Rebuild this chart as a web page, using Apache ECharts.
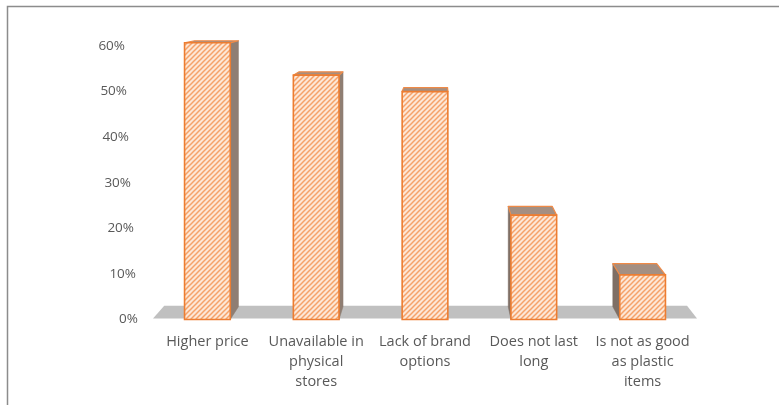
<!DOCTYPE html>
<html>
<head>
<meta charset="utf-8">
<script src="https://cdn.jsdelivr.net/npm/echarts@6/dist/echarts.min.js"></script>
<style>
  html, body { margin: 0; padding: 0; background: #ffffff; }
  #chart { width: 779px; height: 405px; }
</style>
</head>
<body>
<div id="chart"></div>
<script>
// Reasons given for not buying the alternative products (share of respondents)
const categories = [
  'Higher price',
  'Unavailable in\nphysical\nstores',
  'Lack of brand\noptions',
  'Does not last\nlong',
  'Is not as good\nas plastic\nitems'
];
const shares = [0.607, 0.536, 0.50, 0.229, 0.098];
const yTicks = [0, 0.1, 0.2, 0.3, 0.4, 0.5, 0.6];

// Perspective settings for the pseudo-3D columns
const DEPTH = 0.039;          // fraction of the way towards the vanishing point
const VP_X = 0.53;            // vanishing point, as fraction of plot width
const VP_Y = -56;             // vanishing point, px above the plot top

const LABEL_FONT = '"Open Sans", Lato, sans-serif';

function hatchTile() {
  const c = document.createElement('canvas');
  c.width = 5; c.height = 5;
  const g = c.getContext('2d');
  g.fillStyle = '#fde7d6';
  g.fillRect(0, 0, 5, 5);
  g.strokeStyle = '#f5a26a';
  g.lineWidth = 1.5;
  g.beginPath();
  g.moveTo(-1, 6); g.lineTo(6, -1);
  g.moveTo(-1, 1); g.lineTo(1, -1);
  g.moveTo(4, 6); g.lineTo(6, 4);
  g.stroke();
  return c;
}
const hatch = { image: hatchTile(), repeat: 'repeat' };

function projector(cs) {
  const vp = [cs.x + cs.width * VP_X, cs.y + VP_Y];
  return p => [p[0] + (vp[0] - p[0]) * DEPTH, p[1] + (vp[1] - p[1]) * DEPTH];
}

function renderFloor(params, api) {
  const cs = params.coordSys;
  const back = projector(cs);
  const y0 = api.coord([0, 0])[1];
  const fl = [cs.x, y0 - 1], fr = [cs.x + cs.width, y0 - 1];
  return {
    type: 'polygon',
    shape: { points: [fl, fr, back(fr), back(fl)] },
    style: { fill: '#c0c0c0' },
    silent: true
  };
}

function renderBar(params, api) {
  const cs = params.coordSys;
  const back = projector(cs);
  const vpx = cs.x + cs.width * VP_X;
  const base = api.coord([api.value(0), 0]);
  const top = api.coord([api.value(0), api.value(1)]);
  const w = api.size([1, 0])[0] * 0.42;
  const xl = top[0] - w / 2, xr = top[0] + w / 2;
  const yt = top[1], yb = base[1];
  const tl = [xl, yt], tr = [xr, yt], bl = [xl, yb], br = [xr, yb];
  const children = [];
  if (vpx > xr) {
    children.push({
      type: 'polygon',
      shape: { points: [tr, br, back(br), back(tr)] },
      style: { fill: '#8f7e73', stroke: '#8f7e73', lineWidth: 0.5 }
    });
  } else if (vpx < xl) {
    children.push({
      type: 'polygon',
      shape: { points: [tl, bl, back(bl), back(tl)] },
      style: { fill: '#7f6f65', stroke: '#7f6f65', lineWidth: 0.5 }
    });
  }
  children.push({
    type: 'polygon',
    shape: { points: [tl, tr, back(tr), back(tl)] },
    style: { fill: '#a48f82', stroke: '#ef8a47', lineWidth: 1.2, lineJoin: 'round' }
  });
  children.push({
    type: 'rect',
    shape: { x: xl, y: yt, width: w, height: yb - yt },
    style: { fill: hatch, stroke: '#ed7d31', lineWidth: 1.6 }
  });
  return { type: 'group', children: children };
}

// Tick labels drift sideways along the slanted back wall
const tickRich = {};
yTicks.forEach(v => {
  tickRich['t' + Math.round(v * 10)] = {
    color: '#595959',
    fontSize: 13.5,
    fontFamily: LABEL_FONT,
    padding: [0, Math.round(v / 0.6 * 13), 0, 0]
  };
});

const chart = echarts.init(document.getElementById('chart'), null, { renderer: 'canvas' });
chart.setOption({
  animation: false,
  backgroundColor: '#ffffff',
  grid: { left: 153, right: 82, top: 46, bottom: 85.5 },
  xAxis: {
    type: 'category',
    data: categories,
    axisLine: { show: false },
    axisTick: { show: false },
    splitLine: { show: false },
    axisLabel: {
      interval: 0,
      margin: 12,
      color: '#595959',
      fontSize: 14.5,
      lineHeight: 20,
      fontFamily: LABEL_FONT
    }
  },
  yAxis: {
    type: 'value',
    min: 0,
    max: 0.6,
    interval: 0.1,
    axisLine: { show: false },
    axisTick: { show: false },
    splitLine: { show: false },
    axisLabel: {
      margin: 15,
      formatter: v => '{t' + Math.round(v * 10) + '|' + Math.round(v * 100) + '%}',
      rich: tickRich
    }
  },
  graphic: [{
    type: 'rect',
    shape: { x: 7.5, y: 6.5, width: 900, height: 600 },
    style: { fill: 'none', stroke: '#8c8c8c', lineWidth: 1.5 },
    silent: true,
    z: 100
  }],
  series: [
    {
      type: 'custom',
      name: 'floor',
      renderItem: renderFloor,
      data: [[0, 0]],
      encode: { x: 0, y: 1 },
      z: 1,
      silent: true
    },
    {
      type: 'custom',
      name: 'share',
      renderItem: renderBar,
      data: shares.map((v, i) => [i, v]),
      encode: { x: 0, y: 1 },
      clip: false,
      z: 2
    }
  ]
});
</script>
</body>
</html>
